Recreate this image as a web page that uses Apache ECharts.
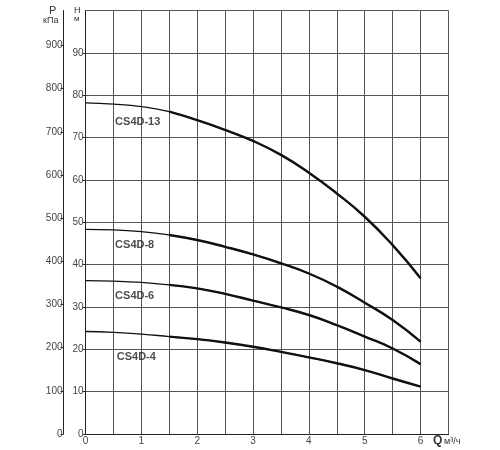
<!DOCTYPE html>
<html>
<head>
<meta charset="utf-8">
<script src="https://cdn.jsdelivr.net/npm/echarts@6/dist/echarts.min.js"></script>
<style>
  html, body { margin: 0; padding: 0; background: #fff; }
  #chart { width: 500px; height: 450px; }
</style>
</head>
<body>
<div id="chart"></div>
<script>
// подача Q, м3/ч
let flow = [0, 0.5, 1, 1.5, 2, 2.5, 3, 3.5, 4, 4.5, 5, 5.5, 6];
// напор H, м
let cs4d13 = [78.2, 77.9, 77.3, 76.1, 74.1, 71.8, 69.2, 65.9, 61.7, 56.8, 51.3, 44.6, 36.8];
let cs4d8 = [48.3, 48.2, 47.8, 47.0, 45.8, 44.2, 42.4, 40.3, 37.9, 34.8, 31.0, 26.9, 21.8];
let cs4d6 = [36.2, 36.1, 35.8, 35.2, 34.4, 33.1, 31.5, 29.9, 28.1, 25.7, 23.0, 20.2, 16.5];
let cs4d4 = [24.2, 24.0, 23.6, 23.0, 22.4, 21.6, 20.6, 19.4, 18.1, 16.7, 15.1, 13.1, 11.2];
let names = ['CS4D-13', 'CS4D-8', 'CS4D-6', 'CS4D-4'];
// где стоят подписи кривых (Q, H)
let labelQ = [0.53, 0.53, 0.53, 0.56];
let labelH = [73.7, 44.6, 32.6, 18.1];
// с какой точки линия рабочего диапазона становится толстой
let thickFrom = 3;

let chart = echarts.init(document.getElementById('chart'));
let font = '"Liberation Sans", Arial, sans-serif';

function curve(name, vals, from, width) {
	let pts = [];
	for (let i = from; i < flow.length; i++) {
		pts.push([flow[i], vals[i]]);
	}
	return {
		name: name,
		type: 'line',
		smooth: true,
		symbol: 'none',
		silent: true,
		lineStyle: { color: '#111', width: width },
		data: pts
	};
}

let series = [];
let all = [cs4d13, cs4d8, cs4d6, cs4d4];
for (let i = 0; i < all.length; i++) {
	series.push(curve(names[i], all[i], 0, 1.3));
	series.push(curve(names[i], all[i], thickFrom, 2.4));
}

let labelPts = [];
for (let i = 0; i < names.length; i++) {
	labelPts.push({ value: [labelQ[i], labelH[i]], name: names[i] });
}
series.push({
	type: 'scatter',
	symbolSize: 0,
	silent: true,
	label: {
		show: true,
		position: 'right',
		distance: 0,
		formatter: p => p.name,
		color: '#222',
		fontSize: 11,
		fontWeight: 'bold',
		fontFamily: font
	},
	data: labelPts
});

let option = {
	animation: false,
	grid: { left: 85.5, right: 51.5, top: 10.5, bottom: 16 },
	xAxis: {
		type: 'value',
		min: 0,
		max: 6.5,
		interval: 0.5,
		axisLine: { lineStyle: { color: '#222', width: 1 } },
		axisTick: { show: false },
		axisLabel: {
			margin: 2,
			color: '#444',
			fontSize: 10,
			fontFamily: font,
			formatter: v => (v % 1 === 0 && v <= 6) ? v : ''
		},
		splitLine: { show: true, lineStyle: { color: '#555', width: 1 } }
	},
	yAxis: [{
		type: 'value',
		min: 0,
		max: 100,
		interval: 10,
		position: 'left',
		axisLine: { show: true, lineStyle: { color: '#222', width: 1 } },
		axisTick: { show: true, length: 3, lineStyle: { color: '#333' } },
		axisLabel: {
			margin: 2,
			color: '#444',
			fontSize: 10,
			fontFamily: font,
			showMaxLabel: false,
			formatter: v => v < 100 ? v : ''
		},
		splitLine: { show: true, lineStyle: { color: '#555', width: 1 } }
	}, {
		type: 'value',
		min: 0,
		max: 981,
		interval: 100,
		position: 'left',
		offset: 22,
		axisLine: { show: true, lineStyle: { color: '#222', width: 1 } },
		axisTick: { show: true, length: 3, lineStyle: { color: '#222' } },
		axisLabel: {
			margin: 1,
			color: '#444',
			fontSize: 10,
			fontFamily: font,
			showMaxLabel: false,
			formatter: v => v % 100 === 0 ? v : ''
		},
		splitLine: { show: false }
	}],
	graphic: [
		{ type: 'text', left: 49, top: 5, style: { text: 'P', font: '11px ' + font, fill: '#333' } },
		{ type: 'text', left: 43, top: 16, style: { text: 'кПа', font: '9px ' + font, fill: '#333' } },
		{ type: 'text', left: 74, top: 6, style: { text: 'Н', font: '9px ' + font, fill: '#333' } },
		{ type: 'text', left: 74, top: 15, style: { text: 'м', font: '8px ' + font, fill: '#333' } },
		{ type: 'text', left: 433, top: 435, style: { text: 'Q', font: 'bold 12px ' + font, fill: '#333' } },
		{ type: 'text', left: 444, top: 437, style: { text: 'м³/ч', font: '9px ' + font, fill: '#333' } }
	],
	series: series
};
chart.setOption(option);
</script>
</body>
</html>
